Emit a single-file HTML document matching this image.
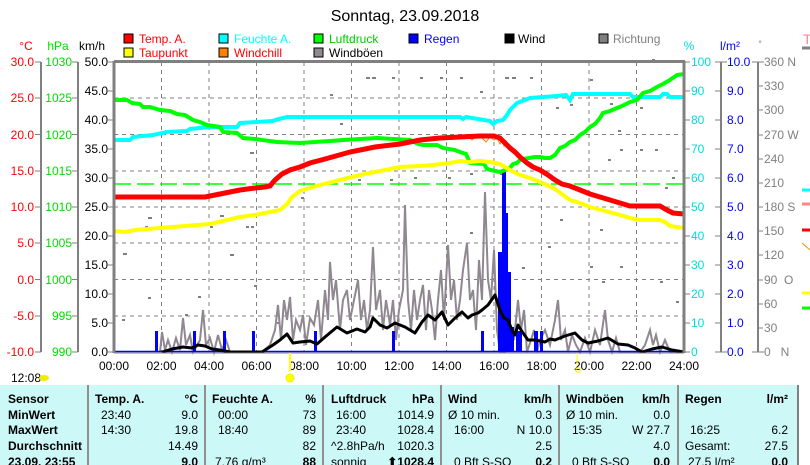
<!DOCTYPE html>
<html><head><meta charset="utf-8"><style>
html,body{margin:0;padding:0;background:#fff;width:810px;height:465px;overflow:hidden;font-family:"Liberation Sans",sans-serif}
svg{position:absolute;left:0;top:0}
text{font-family:"Liberation Sans",sans-serif;font-size:12px}
</style></head><body>
<svg width="810" height="465" viewBox="0 0 810 465" xmlns="http://www.w3.org/2000/svg">
<text x="405" y="21" text-anchor="middle" style="font-size:16px">Sonntag, 23.09.2018</text>

<!-- legend -->
<g stroke="#000" stroke-width="1">
<rect x="124" y="34" width="9" height="9" fill="#f00"/><rect x="219" y="34" width="9" height="9" fill="#0ff"/><rect x="314" y="34" width="9" height="9" fill="#0f0"/><rect x="409" y="34" width="9" height="9" fill="#00f"/><rect x="505" y="34" width="9" height="9" fill="#000"/><rect x="599" y="34" width="9" height="9" fill="#808080"/>
<rect x="124" y="48" width="9" height="9" fill="#ff0"/><rect x="219" y="48" width="9" height="9" fill="#ff8000"/><rect x="314" y="48" width="9" height="9" fill="#908890"/>
</g>
<text x="139" y="43" fill="#f00">Temp. A.</text><text x="234" y="43" fill="#0ff">Feuchte A.</text><text x="329" y="43" fill="#0c0">Luftdruck</text><text x="424" y="43" fill="#00f">Regen</text><text x="518" y="43" fill="#000">Wind</text><text x="613" y="43" fill="#808080">Richtung</text>
<text x="139" y="57" fill="#f00">Taupunkt</text><text x="234" y="57" fill="#f00">Windchill</text><text x="329" y="57" fill="#000">Windböen</text>

<!-- axis titles -->
<text x="26" y="50" fill="#f00" text-anchor="middle">°C</text>
<text x="58" y="50" fill="#0d0" text-anchor="middle">hPa</text>
<text x="92" y="50" fill="#000" text-anchor="middle">km/h</text>
<text x="689" y="50" fill="#0dd" text-anchor="middle">%</text>
<text x="730" y="50" fill="#00f" text-anchor="middle">l/m²</text>
<text x="760" y="47" fill="#808080" text-anchor="middle" style="font-size:9px">°</text>

<!-- left axes -->
<g stroke="#808080" stroke-width="2"><line x1="41" y1="62" x2="41" y2="352"/><line x1="78" y1="62" x2="78" y2="352"/></g>
<g stroke="#808080" stroke-width="1">
<path d="M35 62h6M35 98h6M35 134.5h6M35 171h6M35 207h6M35 243h6M35 279.5h6M35 316h6M35 352h6"/>
<path d="M72 62h6M72 98h6M72 134.5h6M72 171h6M72 207h6M72 243h6M72 279.5h6M72 316h6M72 352h6"/>
<path d="M108 62h6M108 91h6M108 120h6M108 149h6M108 178h6M108 207h6M108 236h6M108 265h6M108 294h6M108 323h6M108 352h6"/>
</g>
<g fill="#f00" text-anchor="end">
<text x="34" y="66">30.0</text><text x="34" y="102">25.0</text><text x="34" y="139">20.0</text><text x="34" y="175">15.0</text><text x="34" y="211">10.0</text><text x="34" y="247">5.0</text><text x="34" y="284">0.0</text><text x="34" y="320">-5.0</text><text x="34" y="356">-10.0</text></g>
<g fill="#0d0" text-anchor="end">
<text x="72" y="66">1030</text><text x="72" y="102">1025</text><text x="72" y="139">1020</text><text x="72" y="175">1015</text><text x="72" y="211">1010</text><text x="72" y="247">1005</text><text x="72" y="284">1000</text><text x="72" y="320">995</text><text x="72" y="356">990</text></g>
<g fill="#000" text-anchor="end">
<text x="108" y="66">50.0</text><text x="108" y="95">45.0</text><text x="108" y="124">40.0</text><text x="108" y="153">35.0</text><text x="108" y="182">30.0</text><text x="108" y="211">25.0</text><text x="108" y="240">20.0</text><text x="108" y="269">15.0</text><text x="108" y="298">10.0</text><text x="108" y="327">5.0</text><text x="108" y="356">0.0</text></g>

<!-- right axes -->
<g stroke="#808080" stroke-width="2"><line x1="721" y1="62" x2="721" y2="352"/><line x1="758" y1="62" x2="758" y2="352"/></g>
<g stroke="#808080" stroke-width="1">
<path d="M685 62h5M685 91h5M685 120h5M685 149h5M685 178h5M685 207h5M685 236h5M685 265h5M685 294h5M685 323h5M685 352h5"/>
<path d="M715 62h12M715 91h6M715 120h6M715 149h6M715 178h6M715 207h6M715 236h6M715 265h6M715 294h6M715 323h6M715 352h12"/>
<path d="M752 62h12M758 86h5M758 110h5M758 135h5M758 159h5M758 183h5M758 207h5M758 231h5M758 255h5M758 280h5M758 304h5M758 328h5M752 352h12"/>
</g>
<g fill="#0dd"><text x="691" y="66">100</text><text x="691" y="95">90</text><text x="691" y="124">80</text><text x="691" y="153">70</text><text x="691" y="182">60</text><text x="691" y="211">50</text><text x="691" y="240">40</text><text x="691" y="269">30</text><text x="691" y="298">20</text><text x="691" y="327">10</text><text x="691" y="356">0</text></g>
<g fill="#00f"><text x="727" y="66">10.0</text><text x="727" y="95">9.0</text><text x="727" y="124">8.0</text><text x="727" y="153">7.0</text><text x="727" y="182">6.0</text><text x="727" y="211">5.0</text><text x="727" y="240">4.0</text><text x="727" y="269">3.0</text><text x="727" y="298">2.0</text><text x="727" y="327">1.0</text><text x="727" y="356">0.0</text></g>
<g fill="#808080"><text x="764" y="66">360 N</text><text x="764" y="90">330</text><text x="764" y="114">300</text><text x="764" y="139">270 W</text><text x="764" y="163">240</text><text x="764" y="187">210</text><text x="764" y="211">180 S</text><text x="764" y="235">150</text><text x="764" y="259">120</text><text x="764" y="284">90&#160;&#160;O</text><text x="764" y="308">60</text><text x="764" y="332">30</text><text x="764" y="356">0&#160;&#160;&#160;N</text></g>

<!-- grid -->
<g stroke="#808080" stroke-width="1" stroke-dasharray="4,4">
<path d="M114 98H684M114 134.5H684M114 171H684M114 207H684M114 243H684M114 279.5H684M114 316H684"/>
<path d="M161.5 62V352M209 62V352M256.5 62V352M304 62V352M351.5 62V352M399 62V352M446.5 62V352M494 62V352M541.5 62V352M589 62V352M636.5 62V352"/>
</g>
<!-- direction dots -->
<g stroke="#808080" stroke-width="2">
<path d="M123 254h4M145 227h3M148 218h4M160 227h4M185 315h3M198 297h3M230 255h4M246 227h3M251 227h3M220 216h4M277 323h3M210 227h3M301 198h3M340 124h3M366 78h4M372 78h4M392 78h3M420 78h3M440 78h3M460 78h3M480 92h3M505 78h4M512 78h4M530 78h3M556 108h3M570 105h3M590 80h3M610 104h3M618 131h3M640 108h3M652 60h3M670 78h4M620 150h3M640 150h3M655 150h3M672 178h3M665 188h3M560 220h3M600 230h3M608 160h3M500 174h3M470 174h3M430 166h3M390 180h3M358 180h3M470 233h3M522 268h3M548 247h3M590 267h3M620 267h3M660 282h3M676 302h3M602 282h3M254 286h3M148 298h3M122 320h3M250 153h4M330 95h3M448 178h3M414 178h3"/>
</g>

<!-- green dashed line -->
<line x1="114" y1="184" x2="684" y2="184" stroke="#0f0" stroke-width="1.5" stroke-dasharray="17,6"/>

<!-- gusts -->
<polyline fill="none" stroke="#908890" stroke-width="2" points="160,352 162,332 165,350 168,340 172,352 176,338 180,350 183,318 186,345 190,335 193,352 200,340 203,310 206,345 210,338 214,352 218,335 222,350 226,340 230,352 262,352 270,345 275,330 278,305 281,340 284,300 287,320 290,297 293,340 296,320 300,330 303,315 306,345 310,318 314,325 318,300 321,340 325,290 328,320 330,262 333,300 336,280 340,330 343,300 347,290 350,320 354,300 358,280 361,320 364,300 367,330 370,310 373,247 376,310 380,290 383,330 386,300 390,325 393,300 396,340 399,310 403,290 405,205 408,300 411,330 414,290 417,320 420,300 423,285 426,330 429,290 432,310 435,340 438,300 441,270 444,320 448,245 451,300 454,280 457,320 460,300 463,270 467,243 470,300 473,290 476,330 479,260 482,300 485,192 488,280 491,300 494,250 497,330 500,352 505,352 510,330 514,340 518,300 521,330 524,310 527,352 531,340 534,330 537,352 540,340 545,330 550,345 555,320 558,300 561,340 565,330 568,352 572,335 576,345 580,352 585,338 590,352 595,330 600,345 605,310 608,340 612,352 616,338 620,352 640,352 645,345 650,330 653,345 656,335 660,352 665,340 670,352 684,352"/>

<!-- rain -->
<g fill="#00f">
<rect x="155" y="331" width="3" height="21"/><rect x="193" y="331" width="3" height="21"/><rect x="223" y="331" width="3" height="21"/><rect x="252" y="331" width="3" height="21"/><rect x="314" y="331" width="3" height="21"/><rect x="392" y="331" width="3" height="21"/><rect x="481" y="331" width="3" height="21"/>
<rect x="498" y="252" width="4" height="100"/><rect x="502" y="172" width="4" height="180"/><rect x="506" y="213" width="2" height="139"/><rect x="508" y="272" width="3" height="80"/><rect x="511" y="327" width="3" height="25"/><rect x="516" y="331" width="6" height="21"/><rect x="534" y="331" width="4" height="21"/><rect x="540" y="331" width="3" height="21"/>
</g>
<line x1="114" y1="351.5" x2="684" y2="351.5" stroke="#00f" stroke-width="1.5"/>

<!-- wind -->
<polyline fill="none" stroke="#000" stroke-width="3" stroke-linejoin="round" points="162,352 172,349 183,347 192,348 198,345 205,346 212,349 220,350 230,352 240,352 262,352 273,345 280,340 287,334 293,343 300,342 310,341 317,344 325,337 337,327 347,333 357,329 365,332 370,327 373,318 380,325 387,328 395,323 405,327 415,333 422,322 428,315 435,320 442,312 448,325 455,318 462,312 468,318 472,315 478,313 482,310 488,305 495,295 500,310 504,318 508,320 512,330 515,335 518,325 523,333 528,340 535,340 545,342 550,339 555,340 565,336 575,333 582,340 588,343 598,341 608,338 618,344 628,345 635,348 642,352 652,349 662,347 672,350 684,352"/>

<!-- humidity -->
<polyline fill="none" stroke="#0ff" stroke-width="4" points="114,140 130,140 133,137 153,135 167,132 187,131 190,129 210,127 237,127 240,123 273,121 275,120 287,117 310,117 460,117 463,119 466,117 490,121 493,124 497,121 503,120 507,115 510,110 517,103 525,100 530,98 557,96 566,95 570,100 573,94 630,94 633,97 660,97 663,94 667,94 670,97 684,97"/>
<!-- pressure -->
<polyline fill="none" stroke="#0f0" stroke-width="4" points="114,100 127,100 132,103 140,104 143,107 150,107 160,110 170,111 177,114 185,115 193,120 200,122 207,125 220,127 223,132 237,133 243,138 255,139 277,142 300,143 330,141 343,140 377,138 410,140 418,144 423,145 437,145 443,148 455,150 460,152 466,154 470,163 484,164 487,169 495,171 500,172 505,170 510,168 513,164 517,163 520,160 523,159 535,157 540,157 545,158 550,158 555,155 560,148 565,146 570,142 575,140 580,135 585,132 590,127 595,124 600,118 603,113 610,111 617,108 622,106 630,102 637,100 643,93 650,91 657,87 663,84 670,80 677,75 684,74"/>
<!-- windchill -->
<polyline fill="none" stroke="#ff8000" stroke-width="1" points="468,136 472,140 476,137 482,138 486,142 490,137 494,140 497,138 500,144 502,140 504,146 506,140"/>
<!-- temp -->
<polyline fill="none" stroke="#f00" stroke-width="5" points="114,197 205,197 215,195 225,193 240,190 255,188 265,187 270,186 275,180 282,174 290,170 300,167 310,163 325,159 350,152 375,147 400,144 420,140 440,138 460,137 480,136 494,136 500,138 505,143 510,148 515,152 520,157 527,163 533,167 540,170 548,175 555,180 562,184 570,186 580,190 590,194 600,197 610,200 620,203 630,206 660,206 667,210 673,213 684,214"/>
<!-- dew -->
<polyline fill="none" stroke="#ff0" stroke-width="4" points="114,231 125,232 135,230 160,228 185,226 210,224 240,217 255,215 270,212 280,210 287,204 292,197 300,191 310,188 320,185 340,180 360,175 380,171 400,167 420,166 433,165 450,163 460,161 470,162 480,161 490,162 500,164 510,170 520,175 530,178 540,182 555,189 570,200 580,203 590,207 605,211 620,215 630,218 640,220 660,220 665,222 670,226 684,228"/>

<!-- plot frame -->
<g stroke="#808080" stroke-width="3" fill="none"><line x1="114" y1="61.5" x2="685" y2="61.5"/><line x1="114" y1="61" x2="114" y2="353"/><line x1="684" y1="61" x2="684" y2="353"/></g>
<line x1="114" y1="353" x2="684" y2="353" stroke="#808080" stroke-width="1"/>

<!-- x labels -->
<g text-anchor="middle" fill="#000">
<text x="114" y="370">00:00</text><text x="161.5" y="370">02:00</text><text x="209" y="370">04:00</text><text x="256.5" y="370">06:00</text><text x="304" y="370">08:00</text><text x="351.5" y="370">10:00</text><text x="399" y="370">12:00</text><text x="446.5" y="370">14:00</text><text x="494" y="370">16:00</text><text x="541.5" y="370">18:00</text><text x="589" y="370">20:00</text><text x="636.5" y="370">22:00</text><text x="684" y="370">24:00</text></g>
<line x1="290" y1="353" x2="290" y2="371" stroke="#ff0" stroke-width="2"/>
<circle cx="290" cy="378" r="4" fill="#ff0" stroke="#ee0"/>
<rect x="576" y="368" width="4" height="4" fill="none" stroke="#ee0" stroke-width="1"/>
<line x1="577" y1="353" x2="577" y2="365" stroke="#ff0" stroke-width="1"/>
<text x="11" y="382" fill="#000">12:08</text>
<ellipse cx="44" cy="378" rx="5" ry="3" fill="#ee0"/>

<!-- right strip markers -->
<text x="803" y="44" fill="#f88" style="font-size:14px">T</text>
<g stroke-width="3"><line x1="802" y1="48" x2="810" y2="48" stroke="#808080"/><line x1="802" y1="190" x2="810" y2="190" stroke="#0ff"/><line x1="802" y1="204" x2="810" y2="204" stroke="#f88"/><line x1="802" y1="230" x2="810" y2="230" stroke="#f00"/><line x1="802" y1="293" x2="810" y2="293" stroke="#ff0"/><line x1="802" y1="308" x2="810" y2="308" stroke="#0f0"/></g>
<line x1="802" y1="243" x2="810" y2="250" stroke="#f80" stroke-width="1"/>
</svg>

<div style="position:absolute;left:0;top:385px;width:797px;height:80px;background:#ccf8f8;border-right:2px solid #808080"></div>
<svg width="810" height="465" viewBox="0 0 810 465" xmlns="http://www.w3.org/2000/svg">
<g stroke="#909090" stroke-width="2"><line x1="88" y1="385" x2="88" y2="465"/><line x1="205" y1="385" x2="205" y2="465"/><line x1="323" y1="385" x2="323" y2="465"/><line x1="441" y1="385" x2="441" y2="465"/><line x1="559" y1="385" x2="559" y2="465"/><line x1="678" y1="385" x2="678" y2="465"/></g>
<g font-weight="bold" style="font-weight:bold">
<text x="8" y="403" font-weight="bold">Sensor</text><text x="8" y="419" font-weight="bold">MinWert</text><text x="8" y="434" font-weight="bold">MaxWert</text><text x="8" y="450" font-weight="bold">Durchschnitt</text><text x="8" y="466" font-weight="bold">23.09. 23:55</text>
<text x="95" y="403" font-weight="bold">Temp. A.</text><text x="198" y="403" text-anchor="end" font-weight="bold">°C</text>
<text x="212" y="403" font-weight="bold">Feuchte A.</text><text x="316" y="403" text-anchor="end" font-weight="bold">%</text>
<text x="331" y="403" font-weight="bold">Luftdruck</text><text x="434" y="403" text-anchor="end" font-weight="bold">hPa</text>
<text x="448" y="403" font-weight="bold">Wind</text><text x="552" y="403" text-anchor="end" font-weight="bold">km/h</text>
<text x="566" y="403" font-weight="bold">Windböen</text><text x="670" y="403" text-anchor="end" font-weight="bold">km/h</text>
<text x="685" y="403" font-weight="bold">Regen</text><text x="788" y="403" text-anchor="end" font-weight="bold">l/m²</text>
<text x="198" y="466" text-anchor="end" font-weight="bold">9.0</text><text x="316" y="466" text-anchor="end" font-weight="bold">88</text><text x="434" y="466" text-anchor="end" font-weight="bold">⬆1028.4</text><text x="552" y="466" text-anchor="end" font-weight="bold">0.2</text><text x="670" y="466" text-anchor="end" font-weight="bold">0.0</text><text x="788" y="466" text-anchor="end" font-weight="bold">0.0</text>
</g>
<g>
<text x="101" y="419">23:40</text><text x="198" y="419" text-anchor="end">9.0</text><text x="101" y="434">14:30</text><text x="198" y="434" text-anchor="end">19.8</text><text x="198" y="450" text-anchor="end">14.49</text>
<text x="218" y="419">00:00</text><text x="316" y="419" text-anchor="end">73</text><text x="218" y="434">18:40</text><text x="316" y="434" text-anchor="end">89</text><text x="316" y="450" text-anchor="end">82</text><text x="215" y="466">7.76 g/m³</text>
<text x="336" y="419">16:00</text><text x="434" y="419" text-anchor="end">1014.9</text><text x="336" y="434">23:40</text><text x="434" y="434" text-anchor="end">1028.4</text><text x="331" y="450">^2.8hPa/h</text><text x="434" y="450" text-anchor="end">1020.3</text><text x="331" y="466">sonnig</text>
<text x="448" y="419">Ø 10 min.</text><text x="552" y="419" text-anchor="end">0.3</text><text x="454" y="434">16:00</text><text x="552" y="434" text-anchor="end">N 10.0</text><text x="552" y="450" text-anchor="end">2.5</text><text x="454" y="466">0 Bft S-SO</text>
<text x="566" y="419">Ø 10 min.</text><text x="670" y="419" text-anchor="end">0.0</text><text x="572" y="434">15:35</text><text x="670" y="434" text-anchor="end">W 27.7</text><text x="670" y="450" text-anchor="end">4.0</text><text x="572" y="466">0 Bft S-SO</text>
<text x="690" y="434">16:25</text><text x="788" y="434" text-anchor="end">6.2</text><text x="685" y="450">Gesamt:</text><text x="788" y="450" text-anchor="end">27.5</text><text x="688" y="466">27.5 l/m²</text>
</g>
</svg>
</body></html>
